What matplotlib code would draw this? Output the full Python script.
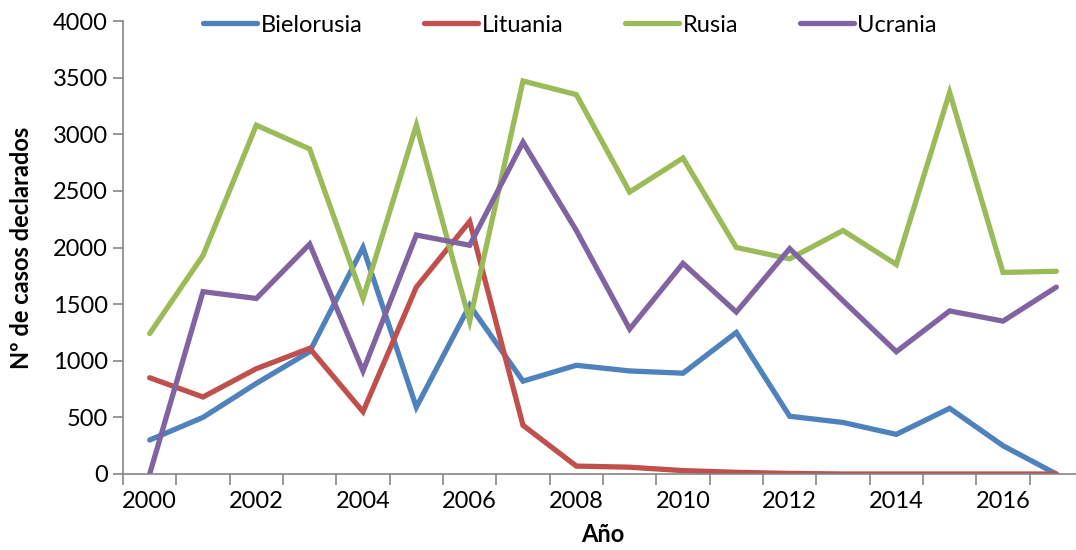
import matplotlib
matplotlib.use("Agg")
import matplotlib.pyplot as plt
import numpy as np

# =========================
# DATA
# =========================

years = list(range(2000, 2018))

bielorusia = [300, 500, 800, 1080, 2000, 590, 1490, 820, 960, 910,
              890, 1250, 510, 455, 350, 580, 250, 0]
lituania = [850, 680, 930, 1110, 550, 1650, 2230, 430, 70, 60,
            30, 15, 5, 0, 0, 0, 0, 0]
rusia = [1240, 1930, 3080, 2870, 1550, 3080, 1350, 3470, 3350, 2490,
         2790, 2000, 1900, 2150, 1850, 3370, 1780, 1790]
ucrania = [0, 1610, 1550, 2030, 910, 2110, 2020, 2930, 2150, 1280,
           1860, 1430, 1990, 1530, 1080, 1440, 1350, 1650]

series_names = ["Bielorusia", "Lituania", "Rusia", "Ucrania"]
series_colors = ["#4F81BD", "#C0504D", "#9BBB59", "#8064A2"]

# =========================
# FIGURE
# =========================

plt.rcParams["font.family"] = ["Lato", "DejaVu Sans"]

fig = plt.figure(figsize=(10.76, 5.5), dpi=100)
ax = fig.add_axes([123 / 1076, 1 - 474 / 550, 960 / 1076, 453 / 550])

x = np.arange(len(years))
for vals, name, col in zip([bielorusia, lituania, rusia, ucrania],
                           series_names, series_colors):
    ax.plot(x, vals, color=col, lw=3.8, label=name,
            solid_joinstyle="miter", solid_capstyle="round")

ax.set_ylim(0, 4000)
ax.set_xlim(-0.5, len(years) - 0.5)
ax.set_yticks(np.arange(0, 4001, 500))

# category axis: ticks between categories, labels every 2 years
ax.set_xticks(np.arange(-0.5, len(years), 1.0))
ax.set_xticklabels([])
ax.set_xticks(x[::2], minor=True)
ax.set_xticklabels([str(y) for y in years[::2]], minor=True)
ax.tick_params(axis="x", which="minor", length=0, pad=12, labelsize=17)
ax.tick_params(axis="x", which="major", length=8, width=1.2, color="#868686")
ax.tick_params(axis="y", length=7, width=1.2, color="#868686", labelsize=17, pad=4)

for s in ["top", "right"]:
    ax.spines[s].set_visible(False)
for s in ["left", "bottom"]:
    ax.spines[s].set_color("#868686")
    ax.spines[s].set_linewidth(1.2)

ax.set_xlabel("Año", fontsize=17, fontweight="bold", labelpad=8)
ax.set_ylabel("Nº de casos declarados", fontsize=17, fontweight="bold", labelpad=14)

ax.legend(loc="center", bbox_to_anchor=(570 / 1076, 1 - 25 / 550),
          bbox_transform=fig.transFigure, ncol=4, frameon=False,
          fontsize=17, handlelength=2.3, handletextpad=0.15,
          columnspacing=2.6)

fig.savefig("out.png", dpi=100)
